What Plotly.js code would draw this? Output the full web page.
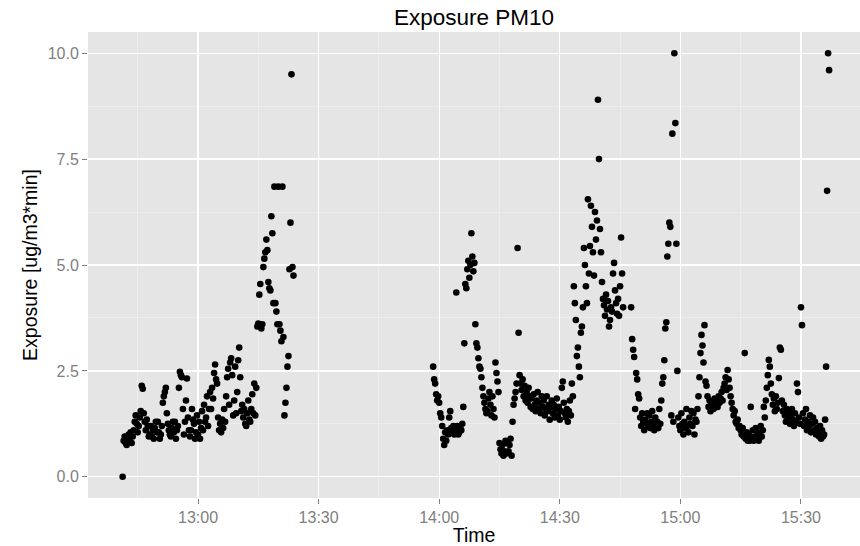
<!DOCTYPE html>
<html>
<head>
<meta charset="utf-8">
<script src="https://cdn.plot.ly/plotly-3.0.1.min.js"></script>
<style>html,body{margin:0;padding:0;background:#fff;}#chart{width:860px;height:546px;}</style>
</head>
<body>
<div id="chart"></div>
<script>
// ---- data (one reading every 15 s) ----
const day = "2014-05-20";
const stepSeconds = 15;

const seg1Start = "12:41:15";
const seg1Values = [
  0.0, 0.85, 0.95,
  0.8, 0.75, 0.9, 1.0,
  0.85, 1.05, 0.8, 0.95,
  1.1, 1.3, 1.45, 1.25,
  1.05, 1.2, 1.4, 1.55,
  2.15, 2.08, 1.5, 1.3,
  1.1, 1.35, 1.2, 0.95,
  1.0, 1.2, 0.95, 1.1,
  0.9, 1.15, 1.3, 1.05,
  1.3, 1.05, 0.9, 1.0,
  1.2, 1.75, 1.9, 2.0,
  2.1, 1.5, 1.25, 1.1,
  1.0, 0.95, 1.15, 1.3,
  1.05, 1.3, 0.9, 1.1,
  1.2, 2.1, 2.48, 2.4,
  2.35, 1.6, 1.0, 1.3,
  1.8, 2.32, 1.4, 1.1,
  0.95, 1.1, 1.6, 1.35,
  1.25, 0.9, 1.05, 1.45,
  1.0, 1.3, 0.9, 1.15,
  1.55, 1.1, 1.7, 1.3,
  1.4, 1.9, 1.2, 1.6,
  2.0, 1.6, 2.1, 1.85,
  2.45, 2.65, 2.3, 2.2,
  1.4, 1.1, 1.25, 1.05,
  1.35, 1.15, 1.6, 1.3,
  1.9, 2.35, 2.55, 1.7,
  2.7, 2.8, 2.4, 1.45,
  1.8, 2.6, 1.5, 2.0,
  2.75, 3.05, 2.35, 1.55,
  1.7, 1.4, 1.6, 1.25,
  1.2, 1.5, 1.8, 1.35,
  1.3, 1.6, 1.95, 1.5,
  2.2, 1.45, 2.1, 3.55,
  3.62, 4.3, 4.55, 3.5,
  3.6, 4.95, 5.15, 5.3,
  5.6, 5.35, 4.6, 4.45,
  4.4, 6.15, 5.75, 4.1,
  6.85, 4.1, 3.9, 3.6,
  6.85, 3.6, 3.45, 3.2,
  6.85, 3.3, 1.45, 1.75,
  2.1, 2.6, 2.85, 4.9,
  6.0, 9.5, 4.95, 4.75
];

const seg2Start = "13:58:30";
const seg2Values = [
  2.6, 2.3,
  2.2, 1.95, 1.8, 1.9,
  1.75, 1.5, 1.4, 1.2,
  0.9, 0.75, 1.05, 0.85,
  1.1, 1.0, 1.4, 1.55,
  1.15, 1.05, 1.2, 1.0,
  1.1, 4.35, 1.2, 1.0,
  1.05, 1.15, 1.1, 1.25,
  1.65, 3.15, 4.55, 4.45,
  4.9, 5.1, 4.7, 5.0,
  5.75, 5.2, 4.85, 5.05,
  3.6, 3.15, 3.05, 2.8,
  2.6, 2.55, 2.35, 2.1,
  1.9, 1.75, 1.6, 1.5,
  1.55, 1.85, 2.0, 1.7,
  1.45, 1.9, 1.6, 1.4,
  2.7, 2.45, 2.25, 2.0,
  0.8, 0.65, 0.55, 0.75,
  0.5, 0.6, 0.85, 0.55,
  0.8, 0.6, 0.75, 0.9,
  0.5, 1.3, 1.7, 1.85,
  2.0, 2.2, 5.4, 3.4,
  2.4, 2.2, 2.05, 2.3,
  1.9, 2.15, 1.8, 2.0,
  1.75, 2.1, 1.9, 1.65,
  1.85, 1.6, 1.95, 1.7,
  1.55, 1.8, 2.0, 1.6,
  1.75, 1.5, 1.9, 1.65,
  1.8, 1.45, 1.6, 1.9,
  1.55, 1.7, 1.35, 1.65,
  1.8, 1.5, 1.7, 1.4,
  1.6, 1.85, 1.45, 1.65,
  1.35, 1.55, 2.1, 2.25,
  1.75, 1.5, 1.4, 1.6,
  1.3, 1.55, 1.8, 1.45,
  2.2, 1.9, 4.5, 4.1,
  3.7, 2.85, 3.05, 2.6,
  2.35, 3.4, 3.55, 4.0,
  5.4, 5.0, 4.5, 4.1,
  6.55, 4.8, 5.45, 6.4,
  5.9, 5.3, 4.75, 6.25,
  5.6, 6.05, 8.9, 7.5,
  5.85, 5.3, 4.6, 4.2,
  4.05, 3.8, 4.3, 3.95,
  4.15, 3.55, 3.7, 4.0,
  3.9, 4.8, 5.05, 4.4,
  4.1, 3.85, 4.2, 3.8,
  4.5, 5.65, 4.8, 4.0,
  null, null, null, null,
  null, null, null, 4.0,
  3.25, 3.0, 2.83, 1.6,
  2.45, 2.3, 1.95, 1.85,
  1.4, 1.2, 1.5, 1.3,
  1.1, 1.35, 1.25, 1.5,
  1.2, 1.45, 1.15, 1.3,
  1.55, 1.25, 1.1, 1.4,
  1.2, 1.3, 1.15, 1.6,
  1.25, 1.8, 2.2, 2.35,
  2.75, 3.5, 3.65, 5.2,
  5.5, 6.0, 5.9, 1.45,
  8.1, 1.3, 10.0, 8.35,
  5.5, 2.5, 1.4, 1.2,
  1.1, 1.5, 1.25, 1.0,
  1.3, 1.15, 1.6, 1.2,
  1.05, 1.4, 1.25, 1.55,
  1.2, 1.5, 1.0, 1.35,
  1.3, 1.6, 1.9, 2.35,
  2.92, 3.35, 3.1, 2.7,
  3.58, 2.25, 2.15, 1.9,
  1.65, 1.8, 1.55, 1.7,
  1.75, 1.6, 1.85, 1.7,
  1.8, 1.65, 1.9, 1.75,
  1.85, 2.0, 1.8, 2.1,
  2.2, 2.35, 2.05, 2.52,
  2.3, 2.1, 1.9, 1.75,
  1.6, 1.45, 1.55, 1.3,
  1.25, 1.35, 1.15, 1.2,
  1.1, 1.0, 1.15, 0.95,
  2.92, 0.9, 1.05, 0.85,
  1.0, 0.85, 1.65, 0.9,
  1.1, 0.85, 0.95, 1.15,
  0.9, 1.05, 0.85, 1.0,
  1.2, 0.95, 1.1, 1.65,
  1.4, 1.8, 2.1, 2.4,
  2.76, 2.6, 2.2, 1.95,
  1.7, 1.85, 1.55, 1.9,
  1.6, 1.75, 2.33, 3.05,
  3.0, 1.8, 1.55, 1.7,
  1.45, 1.3, 1.6, 1.4,
  1.5, 1.25, 1.4, 1.6,
  1.35, 1.2, 1.5, 1.3,
  2.2, 2.0, 1.4, 1.25,
  4.0, 3.58, 1.5, 1.2,
  1.35, 1.6, 1.1, 1.3,
  1.2, 1.45, 1.05, 1.25,
  1.4, 1.1, 1.3, 1.0,
  1.15, 1.05, 0.95, 1.2,
  0.9, 1.1, 0.95, 1.0,
  1.35, 2.6, 6.75, 10.0,
  9.6
];

const xTickLabels = ["13:00", "13:30", "14:00", "14:30", "15:00", "15:30"];
const yTickValues = [0, 2.5, 5, 7.5, 10];
const yTickLabels = ["0.0", "2.5", "5.0", "7.5", "10.0"];

// ---- helpers ----
function pad(n){ return String(n).padStart(2, "0"); }
function toSec(hms){ const p = hms.split(":").map(Number); return p[0]*3600 + p[1]*60 + (p[2]||0); }
function stamp(sec){ return day + " " + pad(Math.floor(sec/3600)) + ":" + pad(Math.floor(sec%3600/60)) + ":" + pad(sec%60); }
function series(start, values){
  const s0 = toSec(start);
  return { x: values.map((v, i) => stamp(s0 + i*stepSeconds)), y: values };
}
const a = series(seg1Start, seg1Values);
const b = series(seg2Start, seg2Values);

const font = "Liberation Sans, Arial, Helvetica, sans-serif";
const trace = {
  type: "scatter", mode: "markers",
  x: a.x.concat(b.x), y: a.y.concat(b.y),
  marker: { color: "#000000", size: 6.6 },
  hoverinfo: "x+y"
};

const layout = {
  width: 860, height: 546,
  paper_bgcolor: "#FFFFFF", plot_bgcolor: "#E5E5E5",
  margin: { l: 88, r: 0, t: 32, b: 48 },
  showlegend: false,
  font: { family: font, color: "#000000" },
  title: { text: "Exposure PM10", font: { family: font, size: 22.5, color: "#000000" },
           x: 0.5, xref: "paper", xanchor: "center", y: 0.969, yref: "container", yanchor: "middle" },
  xaxis: {
    type: "date",
    range: [day + " 12:32:38", day + " 15:44:41"],
    tickvals: xTickLabels.map(t => day + " " + t + ":00"),
    ticktext: xTickLabels,
    ticks: "outside", ticklen: 5, tickwidth: 1, tickcolor: "#7F7F7F",
    tickfont: { family: font, size: 16, color: "#7F7F7F" },
    showgrid: true, gridcolor: "#FFFFFF", gridwidth: 1.2,
    minor: { dtick: 15*60*1000, tick0: day + " 12:45:00", showgrid: true, gridcolor: "#F2F2F2", gridwidth: 0.6, ticks: "" },
    zeroline: false, showline: false, fixedrange: true,
    title: { text: "Time", font: { family: font, size: 19.5, color: "#000000" }, standoff: 2 }
  },
  yaxis: {
    range: [-0.5, 10.5],
    tickvals: yTickValues, ticktext: yTickLabels,
    ticks: "outside", ticklen: 5, tickwidth: 1, tickcolor: "#7F7F7F",
    tickfont: { family: font, size: 16, color: "#7F7F7F" },
    showgrid: true, gridcolor: "#FFFFFF", gridwidth: 1.2,
    minor: { dtick: 1.25, tick0: 0, showgrid: true, gridcolor: "#F2F2F2", gridwidth: 0.6, ticks: "" },
    zeroline: false, showline: false, fixedrange: true,
    title: { text: "Exposure [ug/m3*min]", font: { family: font, size: 19.5, color: "#000000" }, standoff: 4 }
  }
};

Plotly.newPlot("chart", [trace], layout, { displayModeBar: false, staticPlot: true });
</script>
</body>
</html>
